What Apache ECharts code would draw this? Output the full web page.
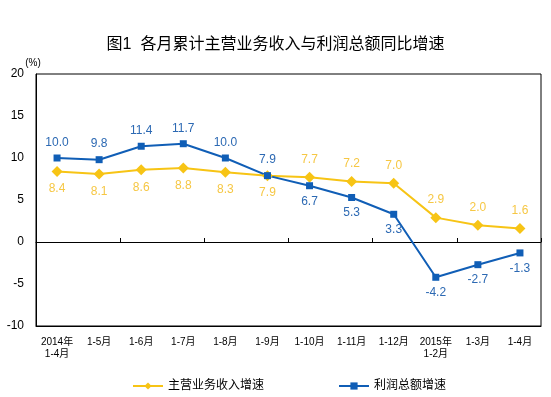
<!DOCTYPE html>
<html>
<head>
<meta charset="utf-8">
<script src="https://cdn.jsdelivr.net/npm/echarts@6/dist/echarts.min.js"></script>
<style>
  html, body { margin: 0; padding: 0; background: #fff; }
  #chart { width: 551px; height: 397px; }
</style>
</head>
<body>
<div id="chart"></div>
<script>
const months = ['2014年\n1-4月', '1-5月', '1-6月', '1-7月', '1-8月', '1-9月', '1-10月', '1-11月', '1-12月', '2015年\n1-2月', '1-3月', '1-4月'];
const revenue = [8.4, 8.1, 8.6, 8.8, 8.3, 7.9, 7.7, 7.2, 7.0, 2.9, 2.0, 1.6];
const profit = [10.0, 9.8, 11.4, 11.7, 10.0, 7.9, 6.7, 5.3, 3.3, -4.2, -2.7, -1.3];
// first 6 points: revenue label below, profit label above; later ones swapped
const splitAt = 6;

const yellow = '#F7C415';
const yellowText = '#F6C744';
const blue = '#105EB6';
const blueText = '#2C69B3';
const cjk = '"Liberation Sans", "Noto Sans CJK SC", sans-serif';

function withLabels(values, beforePos, afterPos) {
  return values.map((v, i) => ({
    value: v,
    label: {
      position: i < splitAt ? beforePos : afterPos
    }
  }));
}

const chart = echarts.init(document.getElementById('chart'));
chart.setOption({
  animation: false,
  textStyle: { fontFamily: cjk },
  title: {
    text: '图1  各月累计主营业务收入与利润总额同比增速',
    left: 'center',
    top: 32,
    textStyle: { fontSize: 16, fontWeight: 'normal', color: '#000', fontFamily: cjk }
  },
  legend: {
    left: 127,
    top: 375,
    itemWidth: 30,
    itemHeight: 9,
    itemGap: 74,
    textStyle: { fontSize: 12, color: '#000' },
    data: ['主营业务收入增速', '利润总额增速']
  },
  grid: {
    left: 36,
    right: 10,
    top: 74,
    bottom: 71,
    show: true,
    borderColor: '#000',
    borderWidth: 1
  },
  xAxis: [{
    type: 'category',
    data: months,
    position: 'bottom',
    axisLine: { onZero: false, lineStyle: { color: '#000' } },
    axisTick: { show: false },
    axisLabel: { fontSize: 10, color: '#000', margin: 10, lineHeight: 12, interval: 0 }
  }, {
    type: 'category',
    data: months,
    position: 'top',
    axisLine: { onZero: true, lineStyle: { color: '#000' } },
    axisTick: { show: true, length: 4, lineStyle: { color: '#000' } },
    axisLabel: { show: false }
  }],
  yAxis: {
    type: 'value',
    min: -10,
    max: 20,
    interval: 5,
    name: '(%)',
    nameLocation: 'end',
    nameGap: 6,
    nameTextStyle: { fontSize: 10, color: '#000', padding: [0, 6, 0, 0] },
    axisLine: { show: true, lineStyle: { color: '#000' } },
    axisTick: { show: false },
    splitLine: { show: false },
    axisLabel: { fontSize: 12, color: '#000', margin: 12 }
  },
  series: [{
    name: '主营业务收入增速',
    type: 'line',
    xAxisIndex: 0,
    data: withLabels(revenue, 'bottom', 'top'),
    symbol: 'diamond',
    symbolSize: 11,
    color: yellow,
    lineStyle: { color: yellow, width: 2 },
    itemStyle: { color: yellow },
    label: { show: true, color: yellowText, fontSize: 12, distance: 6, formatter: p => p.value.toFixed(1) }
  }, {
    name: '利润总额增速',
    type: 'line',
    xAxisIndex: 0,
    data: withLabels(profit, 'top', 'bottom'),
    symbol: 'rect',
    symbolSize: 7,
    color: blue,
    lineStyle: { color: blue, width: 2 },
    itemStyle: { color: blue },
    label: { show: true, color: blueText, fontSize: 12, distance: 6, formatter: p => p.value.toFixed(1) }
  }]
});
</script>
</body>
</html>
